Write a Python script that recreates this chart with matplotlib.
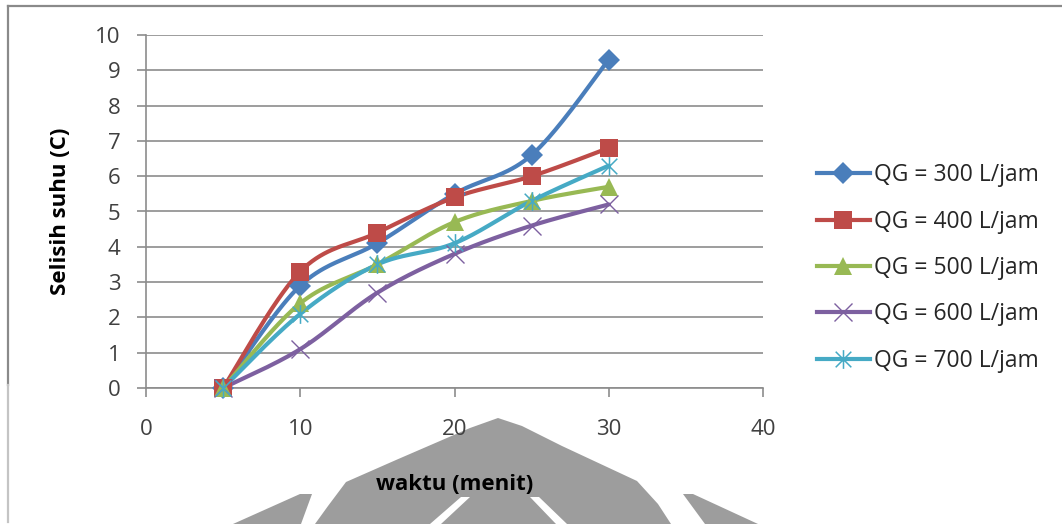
import numpy as np
import matplotlib
matplotlib.use("Agg")
import matplotlib.pyplot as plt
from matplotlib.path import Path
from matplotlib.lines import Line2D
from matplotlib.patches import Polygon

# ---- data -------------------------------------------------------------
waktu = [5, 10, 15, 20, 25, 30]
qg_300 = [0, 2.9, 4.1, 5.5, 6.6, 9.3]
qg_400 = [0, 3.3, 4.4, 5.4, 6.0, 6.8]
qg_500 = [0, 2.4, 3.5, 4.7, 5.3, 5.7]
qg_600 = [0, 1.1, 2.7, 3.8, 4.6, 5.2]
qg_700 = [0, 2.1, 3.5, 4.1, 5.3, 6.3]
labels = ["QG = 300 L/jam", "QG = 400 L/jam", "QG = 500 L/jam",
          "QG = 600 L/jam", "QG = 700 L/jam"]
x_ticks = [0, 10, 20, 30, 40]
y_ticks = list(range(0, 11))

# ---- styling ----------------------------------------------------------
colors = ["#4A7EBB", "#BE4B48", "#98B954", "#7D60A0", "#46AAC5"]

# asterisk marker: vertical stroke plus two diagonals
_d = 0.5
asterisk = Path(
    [(0, -0.6), (0, 0.6), (-_d, -_d), (_d, _d), (-_d, _d), (_d, -_d)],
    [Path.MOVETO, Path.LINETO, Path.MOVETO, Path.LINETO, Path.MOVETO, Path.LINETO],
)
markers = [
    dict(marker="D", ms=11.5, mew=0),
    dict(marker="s", ms=13, mew=0),
    dict(marker="^", ms=12.5, mew=0),
    dict(marker="x", ms=12.5, mew=1.0),
    dict(marker=asterisk, ms=13.5, mew=1.1),
]


def smooth(xs, ys, n=40):
    """Bezier smoothing through every point (Catmull-Rom style tangents)."""
    x = np.asarray(xs, float)
    y = np.asarray(ys, float)
    px = np.concatenate([[x[0]], x, [x[-1]]])
    py = np.concatenate([[y[0]], y, [y[-1]]])
    t = np.linspace(0, 1, n)
    out_x, out_y = [], []
    for i in range(1, len(px) - 2):
        p0 = np.array([px[i], py[i]])
        p3 = np.array([px[i + 1], py[i + 1]])
        p1 = p0 + (np.array([px[i + 1], py[i + 1]]) - np.array([px[i - 1], py[i - 1]])) / 6
        p2 = p3 - (np.array([px[i + 2], py[i + 2]]) - np.array([px[i], py[i]])) / 6
        b = ((1 - t) ** 3)[:, None] * p0 + (3 * (1 - t) ** 2 * t)[:, None] * p1 \
            + (3 * (1 - t) * t ** 2)[:, None] * p2 + (t ** 3)[:, None] * p3
        out_x.extend(b[:, 0])
        out_y.extend(b[:, 1])
    return out_x, out_y


FONT = ["Open Sans", "DejaVu Sans"]
plt.rcParams["font.family"] = FONT

W, H = 1062, 524
fig = plt.figure(figsize=(W / 100, H / 100), dpi=100)
fig.patch.set_facecolor("white")


def fx(px):
    return px / W


def fy(py):
    return 1 - py / H


# faint watermark emblem under the axis title
wm = "#9d9d9d"
mountain = [(315, 524), (328, 506), (346, 482), (396, 460), (470, 428),
            (498, 418), (522, 426), (562, 446), (637, 481), (658, 504), (671, 524)]
slit_l = [(461, 497), (470, 497), (441, 524), (430, 524)]
slit_r = [(530, 497), (539, 497), (567, 524), (556, 524)]
wing_l = [(300, 494), (312, 494), (301, 524), (233, 524)]
wing_r = [(683, 494), (693, 494), (758, 524), (705, 524)]
for pts, col in [(mountain, wm), (slit_l, "white"), (slit_r, "white"),
                 (wing_l, wm), (wing_r, wm)]:
    fig.add_artist(Polygon([(fx(a), fy(b)) for a, b in pts], closed=True,
                           transform=fig.transFigure, facecolor=col,
                           edgecolor="none", zorder=-5))

# chart frame (top and left edges)
fig.add_artist(Line2D([fx(8), 1], [fy(6), fy(6)], transform=fig.transFigure,
                      color="#8a8a8a", lw=1.6, zorder=-4))
fig.add_artist(Line2D([fx(8), fx(8)], [fy(6), fy(385)], transform=fig.transFigure,
                      color="#8a8a8a", lw=1.6, zorder=-4))
fig.add_artist(Line2D([fx(8), fx(8)], [fy(385), fy(522)], transform=fig.transFigure,
                      color="#c4c4c4", lw=1.6, zorder=-4))

ax = fig.add_axes([fx(146), fy(388), fx(763) - fx(146), fy(35) - fy(388)])
ax.set_facecolor("none")

series = [qg_300, qg_400, qg_500, qg_600, qg_700]
for vals, col, mk, lab in zip(series, colors, markers, labels):
    sx, sy = smooth(waktu, vals)
    ax.plot(sx, sy, color=col, lw=3.0, solid_capstyle="round", clip_on=False, zorder=3)
    ax.plot(waktu, vals, linestyle="none", color=col, marker=mk["marker"],
            markersize=mk["ms"], markeredgewidth=mk["mew"], markeredgecolor=col,
            markerfacecolor=col, clip_on=False, zorder=4)

ax.set_xlim(0, 40)
ax.set_ylim(0, 10)
ax.set_xticks(x_ticks)
ax.set_yticks(y_ticks)

grid_col = "#8c8c8c"
ax.yaxis.grid(True, color=grid_col, lw=1.2)
ax.xaxis.grid(False)
ax.set_axisbelow(True)
for side in ["top", "right"]:
    ax.spines[side].set_visible(False)
for side in ["left", "bottom"]:
    ax.spines[side].set_color(grid_col)
    ax.spines[side].set_linewidth(1.2)

ax.tick_params(axis="x", direction="out", length=6.5, width=1.2, color=grid_col,
               pad=16, labelsize=16, labelcolor="#404040")
ax.tick_params(axis="y", direction="out", length=6.5, width=1.2, color=grid_col,
               pad=12, labelsize=16, labelcolor="#404040")

ax.set_xlabel("waktu (menit)", fontsize=16, fontweight="bold", color="black",
              va="center", ha="center")
ax.xaxis.set_label_coords(0.5, -0.272)
ax.set_ylabel("Selisih suhu (C)", fontsize=16, fontweight="bold", color="black",
              va="center", ha="center")
ax.yaxis.set_label_coords(-0.139, 0.5)

handles = [Line2D([], [], color=c, lw=3.0, marker=m["marker"], markersize=m["ms"],
                  markeredgewidth=m["mew"], markeredgecolor=c, markerfacecolor=c)
           for c, m in zip(colors, markers)]
fig.legend(handles, labels, loc="center left", bbox_to_anchor=(fx(817), fy(268)),
           frameon=False, fontsize=16.5, handlelength=2.3, handletextpad=0.2,
           labelspacing=0.98, borderaxespad=0, borderpad=0, labelcolor="#262626")

fig.savefig("out.png", dpi=100, facecolor="white")
